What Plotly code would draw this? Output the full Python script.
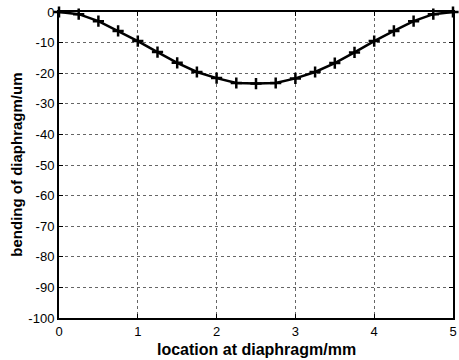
import plotly.graph_objects as go

location_mm = [0, 0.25, 0.5, 0.75, 1.0, 1.25, 1.5, 1.75, 2.0, 2.25, 2.5,
               2.75, 3.0, 3.25, 3.5, 3.75, 4.0, 4.25, 4.5, 4.75, 5.0]
bending_um = [0, -0.7, -3.0, -6.2, -9.5, -13.1, -16.6, -19.6, -21.6, -23.2, -23.4,
              -23.2, -21.7, -19.6, -16.7, -13.2, -9.5, -6.2, -3.0, -0.7, 0]

x_ticks = [0, 1, 2, 3, 4, 5]
x_labels = ["0", "1", "2", "3", "4", "5"]
y_ticks = [0, -10, -20, -30, -40, -50, -60, -70, -80, -90, -100]
y_labels = ["0", "-10", "-20", "-30", "-40", "-50", "-60", "-70", "-80", "-90", "-100"]

FONT = "Liberation Sans, Arial, sans-serif"

fig = go.Figure()
fig.add_trace(go.Scatter(
    x=location_mm, y=bending_um, mode="lines+markers",
    line=dict(color="black", width=2.5),
    marker=dict(symbol="cross-thin", size=8, line=dict(color="black", width=2.5), color="black"),
    showlegend=False, cliponaxis=False,
))

axis_common = dict(
    showline=True, linecolor="black", linewidth=2, mirror="ticks",
    ticks="inside", ticklen=4, tickcolor="black", tickwidth=1,
    showgrid=True, gridcolor="#666666", gridwidth=1, griddash="dot",
    zeroline=False, automargin=False,
    tickfont=dict(family=FONT, size=13, color="black"),
)

fig.update_layout(
    width=459, height=360,
    margin=dict(l=59, r=6, t=12, b=42),
    paper_bgcolor="white", plot_bgcolor="white",
    xaxis=dict(range=[0, 5], tickvals=x_ticks, ticktext=x_labels, **axis_common),
    yaxis=dict(range=[-100, 0], tickvals=y_ticks, ticktext=y_labels, **axis_common),
    annotations=[
        dict(text="<b>location at diaphragm/mm</b>", xref="paper", yref="paper",
             x=0.5, y=-0.102, xanchor="center", yanchor="middle", showarrow=False,
             font=dict(family=FONT, size=16, color="black")),
        dict(text="<b>bending of diaphragm/um</b>", xref="paper", yref="paper",
             x=-0.11, y=0.5, xanchor="center", yanchor="middle", textangle=-90,
             showarrow=False, font=dict(family=FONT, size=15, color="black")),
    ],
)

fig.write_html("out.html", config={"displayModeBar": False},
               post_script="document.body.style.margin='0';document.body.style.overflow='hidden';")
